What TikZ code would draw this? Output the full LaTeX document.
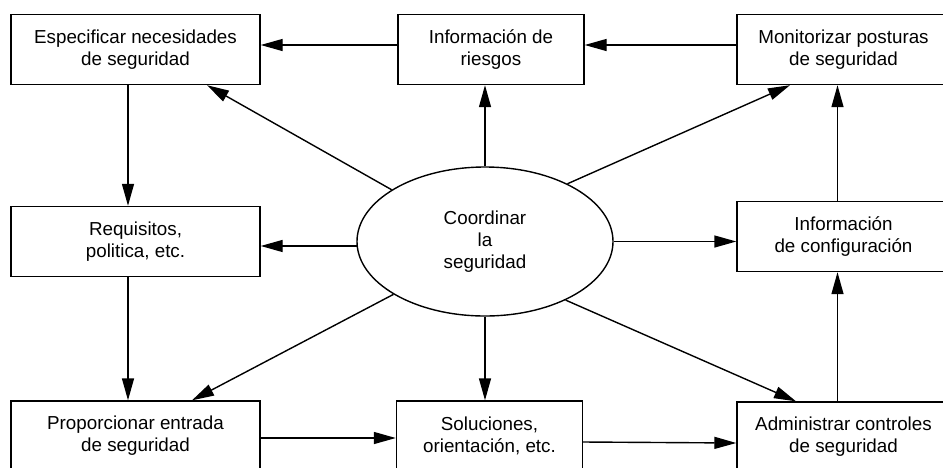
\documentclass[tikz,border=0pt]{standalone}
\usepackage{fontspec}
\setmainfont{Liberation Sans}
\usetikzlibrary{arrows.meta,shapes.geometric}
\begin{document}
\begin{tikzpicture}[x=1pt, y=-1pt,
      caja/.style={draw=black, line width=1.4pt, minimum height=70pt,
            inner sep=0pt, align=center, font=\fontsize{18.8}{22}\selectfont},
      flecha/.style={line width=1.4pt, -{Triangle[length=22pt, width=12pt]}}]
      \clip (0,0) rectangle (943,467);
      \node[caja, minimum width=249pt] (espec) at (135.5,49.5)
        {Especificar necesidades\\de seguridad};
      \node[caja, minimum width=186pt] (riesgos) at (491,49.5)
        {Información de\\riesgos};
      \node[caja, minimum width=213pt] (monit) at (843.5,49.5)
        {Monitorizar posturas\\de seguridad};
      \node[caja, minimum width=249pt] (requis) at (135.5,241.5)
        {Requisitos,\\politica, etc.};
      \node[caja, minimum width=213pt] (config) at (843.5,236.5)
        {Información\\de configuración};
      \node[caja, minimum width=249pt] (entrada) at (135.5,436)
        {Proporcionar entrada\\de seguridad};
      \node[caja, minimum width=186pt] (soluc) at (489.5,436)
        {Soluciones,\\orientación, etc.};
      \node[caja, minimum width=213pt] (admin) at (843.5,437)
        {Administrar controles\\de seguridad};
      \node[ellipse, draw=black, line width=1.4pt, minimum width=256pt,
            minimum height=149pt, inner sep=0pt, align=center,
            font=\fontsize{18.8}{22}\selectfont]
        (coord) at (485,241.5) {Coordinar\\la\\seguridad};
      \draw[flecha] ([yshift=4.5pt]monit.west) -- ([yshift=4.5pt]riesgos.east);
      \draw[flecha] ([yshift=4.5pt]riesgos.west) -- ([yshift=4.5pt]espec.east);
      \draw[flecha] ([xshift=-7.5pt]espec.south) -- ([xshift=-7.5pt]requis.north);
      \draw[flecha] ([xshift=-7.5pt]requis.south) -- ([xshift=-7.5pt]entrada.north);
      \draw[flecha] ([yshift=-2pt]entrada.east) -- ([yshift=-2pt]soluc.west);
      \draw[flecha] ([yshift=-6pt]soluc.east) -- ([yshift=-6pt]admin.west);
      \draw[flecha] ([xshift=-6pt]admin.north) -- ([xshift=-6pt]config.south);
      \draw[flecha] ([xshift=-6pt]config.north) -- ([xshift=-6pt]monit.south);
      \draw[flecha] (coord.north) -- (coord.north |- riesgos.south);
      \draw[flecha] (coord.south) -- (coord.south |- soluc.north);
      \draw[flecha] (coord.182) -- (coord.182 -| requis.east);
      \draw[flecha] (coord.east) -- (coord.east -| config.west);
      \draw[flecha] (coord.151) -- ([xshift=71.5pt]espec.south);
      \draw[flecha] (coord.35) -- ([xshift=-53.5pt]monit.south);
      \draw[flecha] (coord.210) -- ([xshift=56.5pt]entrada.north);
      \draw[flecha] (coord.-36) -- ([xshift=-47.5pt]admin.north);
\end{tikzpicture}
\end{document}
